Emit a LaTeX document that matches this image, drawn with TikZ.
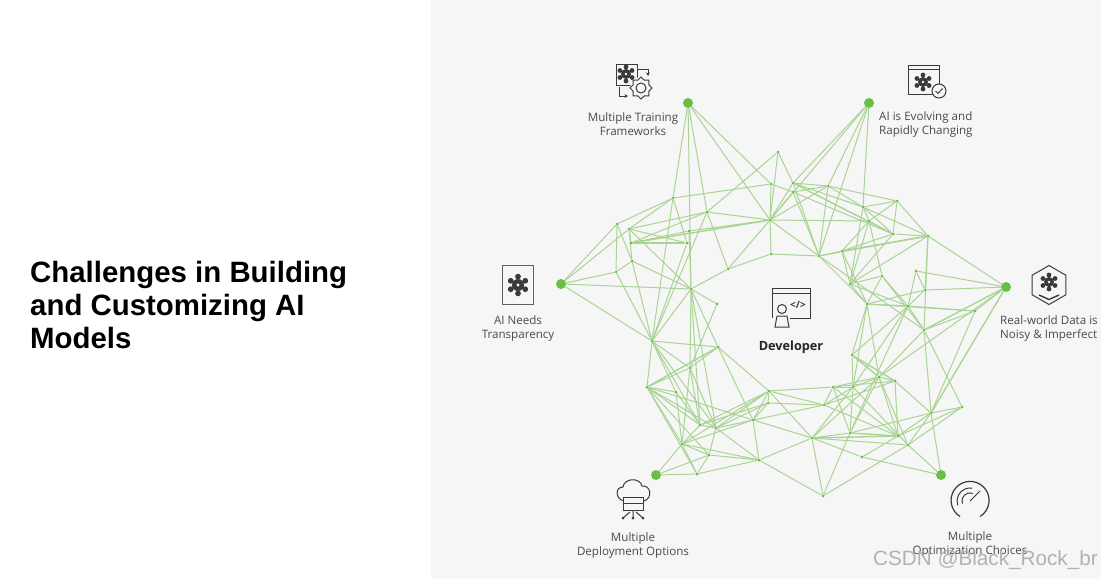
\documentclass[tikz,border=0pt]{standalone}
\usepackage{fontspec}
\setmainfont{Open Sans}
\newfontfamily\titlefont{Liberation Sans}
\usetikzlibrary{arrows.meta, backgrounds, shapes.geometric}
\definecolor{panelgray}{HTML}{F6F6F6}
\definecolor{meshgreen}{HTML}{A9D493}
\definecolor{dotgreen}{HTML}{69BE45}
\definecolor{icondark}{HTML}{3A3A3A}
\definecolor{labelgray}{HTML}{4A4A4A}
\tikzset{
  netglyph/.pic={
    \fill[icondark] (0,0) circle[radius=5pt];
    \foreach \k in {0,60,...,300} {
      \draw[icondark, line width=1.4pt] (0,0) -- (\k+30:7pt);
      \fill[icondark] (\k+30:7pt) circle[radius=2.4pt];
    }
    \fill[white] (0,0) circle[radius=1.4pt];
  }
}
\begin{document}
\begin{tikzpicture}[x=1pt, y=-1pt,
    hub/.style={circle, fill=dotgreen, minimum size=10pt, inner sep=0pt},
    vtx/.style={circle, fill=dotgreen, minimum size=3pt, inner sep=0pt},
    ed/.style={draw=meshgreen, line width=1pt},
    edb/.style={draw=meshgreen, line width=1.4pt},
    lbl/.style={font=\fontsize{11.6}{14}\selectfont, text=labelgray, inner sep=0pt},
    ico/.style={draw=icondark, line width=1pt},
    tiparrow/.style={ico, -{Stealth[length=3.5pt, width=3.5pt]}}]
  \useasboundingbox (0,0) rectangle (1101,579);
  % hubs
  \node[hub] (tl) at (688,103) {};
  \node[hub] (tr) at (869,103) {};
  \node[hub] (lf) at (561,284) {};
  \node[hub] (rt) at (1006,287) {};
  \node[hub] (bl) at (656,475) {};
  \node[hub] (br) at (941,475) {};
  % mesh points
  \foreach \n/\x/\y in {a/778/152, b/673/198, c/707/212, d/771/184, e/770/220, f/617/224, g/629/229,
      h/631/243, i/687/243, j/689/231, k/632/261, l/616/272, m/691/289, n/728/269, o/771/254,
      p/793/183, q/793/192, r/828/186, s/897/201, t/863/207, u/869/221, v/928/236, w/893/234,
      x/842/251, y/819/256, z/850/284, aa/882/276, ab/916/271, ac/925/290, ad/867/304, ae/908/306,
      af/975/311, ag/924/330, ah/852/355, ai/879/377, aj/895/381, ak/833/387, al/853/387, am/824/405,
      an/931/413, ao/962/407, ap/850/433, aq/898/436, ar/812/438, as/908/445, at/862/457, au/823/496,
      aw/652/341, ax/718/347, ay/690/368, az/647/387, ba/676/392, bb/769/391, bc/768/403, bd/700/425,
      be/716/428, bf/753/420, bg/682/444, bh/709/455, bi/759/460, bj/697/474, bk/717/304}
    \node[vtx] (\n) at (\x,\y) {};
  \begin{scope}[on background layer]
    \fill[white] (0,0) rectangle (431,579);
    \fill[panelgray] (431,0) rectangle (1101,579);
    \foreach \p/\q in {tl/b, tl/m, tl/c, tl/e, tl/d, tr/p, tr/e, tr/r, tr/y, tr/t,
        lf/f, lf/g, lf/l, lf/m, lf/aw, f/b, g/b, f/l, f/k, g/h, g/c, g/i, g/m, g/k, h/c, j/e, j/m, j/h,
        b/i, b/aw, b/d, c/e, c/n, c/a, c/aw, i/aw, k/l, k/m, k/aw, l/aw, m/n, m/bk, n/e, n/o, e/o,
        a/e, a/p, d/e, d/q, e/p, e/q, e/r, e/y, e/u, o/y,
        p/r, p/t, p/y, q/r, q/w, q/y, r/s, r/t, r/y, t/s, t/v, t/u, t/w, t/z, u/s, u/w, u/x, u/aa, u/z,
        s/v, s/w, w/v, w/x, y/x, y/v, y/ad, y/ag, x/z, z/v, z/w, x/ad, z/ad, z/aa, z/ae, aa/ae, aa/ad, aa/ag,
        v/ac, v/ag, v/rt, ab/rt, ac/rt, af/rt, ab/ac, ac/ae, ab/ae, ad/ac, ad/ae, ad/af, ad/ah,
        ad/ai, ad/al, ae/af, ae/ag, ae/ah, ae/al, ae/ap, ag/af, ag/an, ag/ao, ag/ai, af/an,
        ah/al, ai/aj, ai/al, ai/ak, ai/rt, ai/ap, ai/aq, ai/ar, ai/as, aj/an, aj/ak, aj/aq,
        ak/al, ak/ap, ak/am, ak/aq, al/am, al/ar, al/ap, al/as, an/ao, an/aq, an/ap, an/as, an/br, ao/aq, ao/as,
        ar/ap, ar/as, ar/at, ar/au, as/br, at/br, at/aq, au/ap, au/as, am/aq, am/aj,
        m/ay, m/aw, m/ax, m/bd, m/be, bk/ay, ay/ax, ay/aw, ay/az, ay/bd, ay/be, aw/az, aw/ax, aw/be, aw/bd, aw/ba,
        az/bd, az/be, az/bf, az/bg, az/bh, az/bj, az/ba, ba/bd, ay/bg, bg/bd, bg/bh, bl/bg, bg/ba, bg/bb, bg/bf,
        bd/be, bd/bb, bd/bc, be/bb, be/bc, be/bh, be/bi, ax/bf, ax/bb, bf/bb, bf/bc, bf/ar, bf/bi, bb/bc, bb/ar, bb/am, bb/ak,
        bc/am, bl/bh, bl/bj, bh/bj, bh/bi, bj/bg, bj/bi, bi/ar, bi/au, bi/bg, be/am}
      \draw[ed] (\p) -- (\q);
    \foreach \p/\q in {h/i, h/e, p/w, x/v, ah/ai, ah/aj, ag/rt, an/rt, ar/aq, ap/aq, az/ax}
      \draw[edb] (\p) -- (\q);
  \end{scope}
  % heading
  \node[font=\titlefont\bfseries\fontsize{29.4}{33}\selectfont, align=left, anchor=west, inner sep=0pt] (heading) at (30,305)
    {Challenges in Building\\and Customizing AI\\Models};
  % labels
  \node[lbl, align=center] (trainlabel) at (633,124) {Multiple Training\\Frameworks};
  \node[lbl, align=left, anchor=west] (evolvelabel) at (879,124) {AI is Evolving and\\Rapidly Changing};
  \node[lbl, align=center] (needlabel) at (518,328) {AI Needs\\Transparency};
  \node[lbl, align=left, anchor=west] (noisylabel) at (1000,328) {Real-world Data is\\Noisy \& Imperfect};
  \node[lbl, align=center] (deploylabel) at (633,545) {Multiple\\Deployment Options};
  \node[lbl, align=center] (optlabel) at (970,544) {Multiple\\Optimization Choices};
  \node[font=\bfseries\fontsize{12.7}{14}\selectfont, text=black!85, inner sep=0pt] (devlabel) at (791,347) {Developer};
  \node[font=\titlefont\fontsize{20.7}{22}\selectfont, text=black!30, inner sep=0pt, anchor=east] (mark) at (1098,560) {CSDN @Black\_Rock\_br};
  % training icon
  \draw[ico] (616,64) rectangle (637,85);
  \pic at (626,74) {netglyph};
  \fill[panelgray] (641,88) circle[radius=11pt];
  \node[ico, draw, star, star points=8, star point ratio=1.3, minimum size=22pt, inner sep=0pt] (gear) at (641,88) {};
  \draw[ico] (641,88) circle[radius=5pt];
  \draw[tiparrow] (637,69) -- (648,69) -- (648,76);
  \draw[tiparrow] (619,87) -- (619,96) -- (628,96);
  % evolving icon
  \draw[ico] (908,65) rectangle (939,94);
  \draw[ico] (908,69) -- (939,69);
  \pic at (923,82) {netglyph};
  \draw[ico, fill=panelgray] (939,91) circle[radius=7pt];
  \draw[ico] (935.5,91) -- (938,93.5) -- (942.5,88.5);
  % transparency icon
  \draw[draw=icondark!80, line width=1.6pt] (502.5,265.5) rectangle (533.5,304.5);
  \pic[scale=1.2] at (518,285) {netglyph};
  % data icon
  \node[ico, draw, regular polygon, regular polygon sides=6, shape border rotate=90, minimum size=39pt, inner sep=0pt] (datahex) at (1049,285) {};
  \pic at (1049,282) {netglyph};
  \draw[ico, line width=1.4pt] (1039,295) -- (1049,299.5) -- (1059,295);
  % deployment icon
  \draw[ico] (624,501) .. controls (615,499) and (615,487) .. (623,487) .. controls (624,478) and (640,477) .. (642,486) .. controls (651,485) and (653,498) .. (644,501);
  \draw[ico, fill=panelgray] (623,497) rectangle (643,510);
  \draw[ico] (623,503.5) -- (643,503.5);
  \draw[ico] (633,510) -- (633,518) (630,512) -- (623,518) (636,512) -- (643,518);
  \fill[icondark] (633,518) circle[radius=1.5pt] (623,518) circle[radius=1.5pt] (643,518) circle[radius=1.5pt];
  % gauge icon
  \draw[ico, line width=1.2pt] (960,516.5) arc[start angle=238, end angle=-58, radius=19pt];
  \draw[ico] (962.5,503.7) arc[start angle=200, end angle=70, radius=8pt];
  \draw[ico] (957.8,505.4) arc[start angle=200, end angle=80, radius=13pt];
  \draw[ico] (970,501) -- (980,491);
  % developer icon
  \draw[ico] (772,318) -- (772,288) -- (810,288) -- (810,318) -- (790,318);
  \draw[ico] (772,293) -- (810,293);
  \node[font=\fontsize{10}{10}\selectfont\bfseries, text=icondark, inner sep=0pt] (codemark) at (798,305) {</>};
  \draw[ico] (782,309) circle[radius=4.5pt];
  \draw[ico, fill=panelgray] (775,327) -- (777,316) -- (787,316) -- (789,327) -- cycle;
\end{tikzpicture}
\end{document}
